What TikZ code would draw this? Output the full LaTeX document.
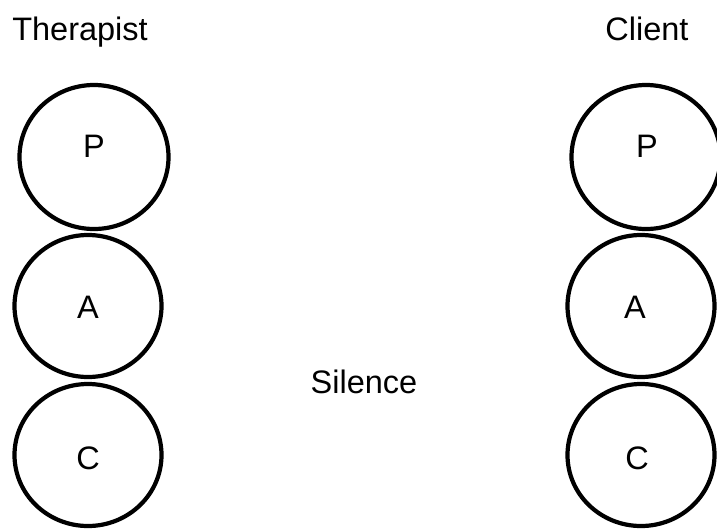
\documentclass[tikz,border=0pt]{standalone}
\usepackage{fontspec}
\setmainfont{Liberation Sans}
\usetikzlibrary{shapes.geometric}

\begin{document}
\begin{tikzpicture}[x=1pt, y=-1pt,
    ego/.style={ellipse, draw=black, line width=4.2pt, minimum width=147pt, minimum height=142pt, inner sep=0pt},
    tag/.style={font=\fontsize{32.5}{38}\selectfont, inner sep=0pt}]
  \useasboundingbox (0,0) rectangle (717,528);

  % Therapist ego states
  \begin{scope}
    \node[ego, minimum width=149pt, minimum height=144pt] (tP) at (94,157) {};
    \node[ego] (tA) at (88,306) {};
    \node[ego] (tC) at (88,455) {};

    \node[tag] (tPtxt) at (94,146) {P};
    \node[tag] (tAtxt) at (88,307) {A};
    \node[tag] (tCtxt) at (88,458) {C};

    \node[tag, anchor=base] (therapist) at (80,40) {Therapist};
  \end{scope}

  % Client ego states
  \begin{scope}
    \node[ego, minimum width=149pt, minimum height=144pt] (cP) at (646,157) {};
    \node[ego] (cA) at (641,306) {};
    \node[ego] (cC) at (641,455) {};

    \node[tag] (cPtxt) at (647,146) {P};
    \node[tag] (cAtxt) at (635,307) {A};
    \node[tag] (cCtxt) at (637,458) {C};

    \node[tag, anchor=base] (client) at (647,40) {Client};
  \end{scope}

  % Between them
  \node[tag, anchor=base] (silence) at (364,393) {Silence};
\end{tikzpicture}
\end{document}
